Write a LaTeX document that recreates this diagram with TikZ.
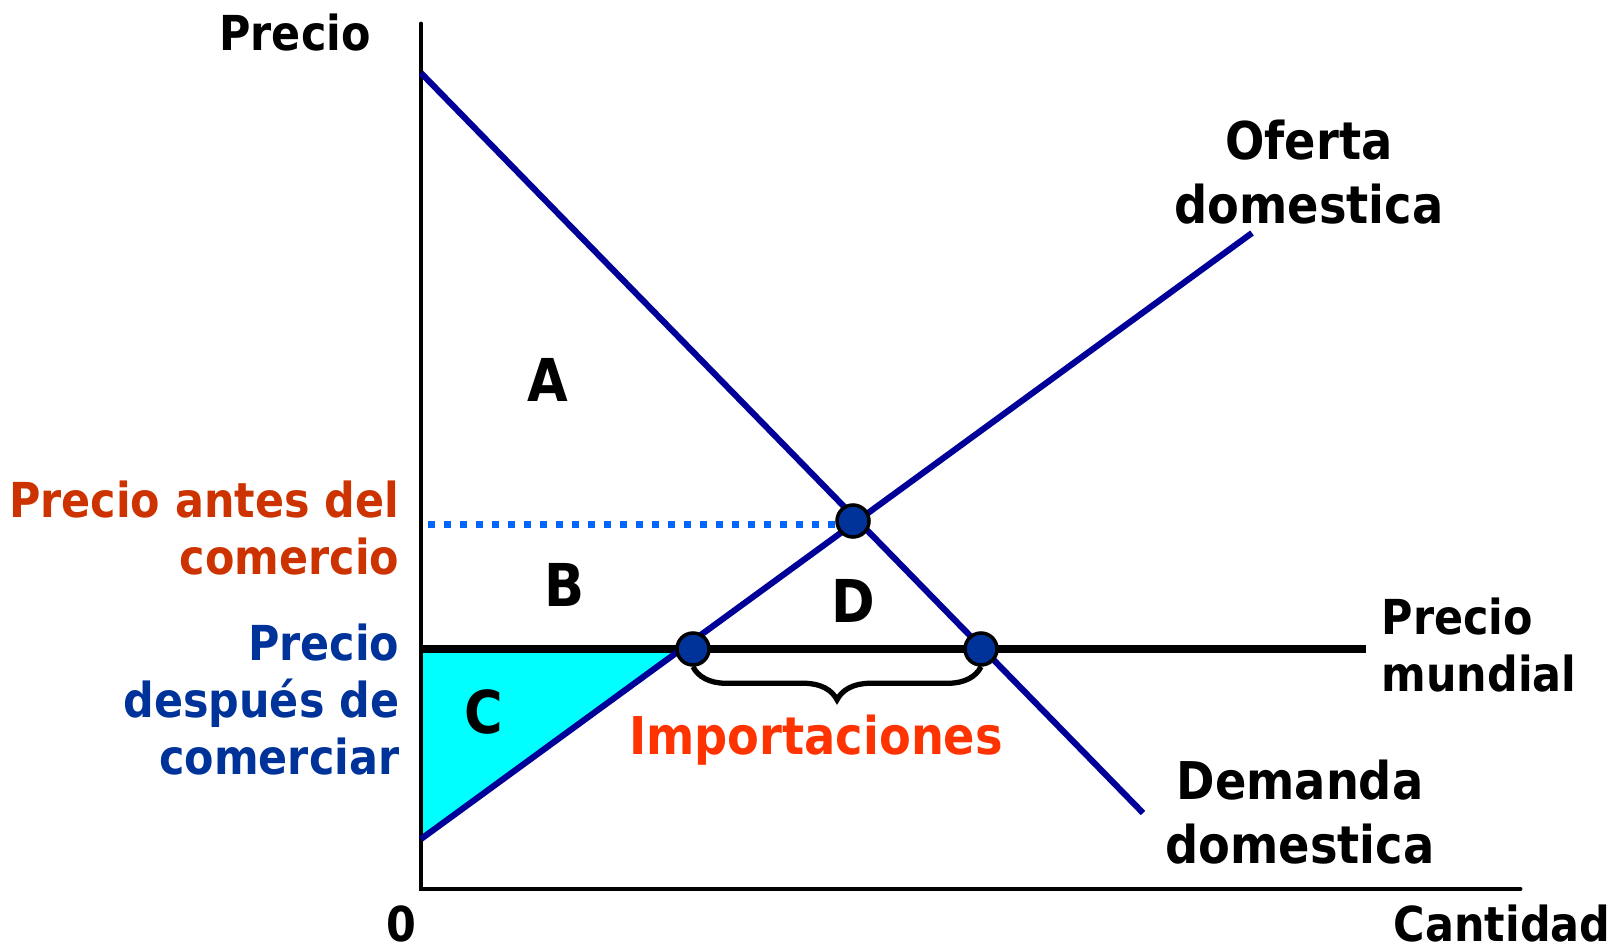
\documentclass[tikz,border=0pt]{standalone}
\usepackage{fontspec}
\setmainfont{DejaVu Sans}[FakeStretch=0.89]
\usepackage{tikz}
\usetikzlibrary{decorations.pathreplacing}

\definecolor{curveblue}{HTML}{000099}
\definecolor{dotblue}{HTML}{003399}
\definecolor{dotline}{HTML}{0066FF}
\definecolor{antes}{HTML}{CC3300}
\definecolor{despues}{HTML}{003399}
\definecolor{imports}{HTML}{FF3300}
\definecolor{areac}{HTML}{00FFFF}

\tikzset{
	curve/.style={line width=1.75pt,curveblue},
	eqdot/.style={circle,draw=black,line width=1pt,fill=dotblue,minimum size=0.32cm,inner sep=0pt},
	lbl/.style={font=\bfseries\fontsize{13.7}{16.2}\selectfont,inner sep=0pt},
	biglbl/.style={font=\bfseries\fontsize{14.8}{18}\selectfont,inner sep=0pt,align=center},
	area/.style={font=\bfseries\fontsize{16.8}{20}\selectfont,inner sep=0pt}
}

\begin{document}
\begin{tikzpicture}[x=0.01cm,y=-0.01cm]
	\useasboundingbox (0,0) rectangle (1619,946);

	% -- Points
	\coordinate (O) at (421,889);
	\coordinate (ytop) at (421,24);
	\coordinate (xend) at (1520,889);
	\coordinate (d1) at (421,73);
	\coordinate (d2) at (1143,813);
	\coordinate (s1) at (421,839);
	\coordinate (s2) at (1252,233);
	\coordinate (w1) at (421,649);
	\coordinate (w2) at (1366,649);
	\coordinate (pa) at (428,524);
	\coordinate (tip) at (intersection of s1--s2 and w1--w2);

	% -- Area C
	\fill[areac] (w1) -- (tip) -- (s1) -- cycle;

	% -- Axes
	\draw[line width=1.4pt,line cap=round] (ytop) -- (O) -- (xend);

	% -- World price
	\draw[line width=2pt] (w1) -- (w2);

	% -- Price before trade
	\draw[dotline,line width=0.07cm,dash pattern=on 0.07cm off 0.09cm] (pa) -- (853,524);

	% -- Supply and demand
	\draw[curve] (d1) -- (d2);
	\draw[curve] (s1) -- (s2);

	% -- Dots
	\node[eqdot] (E) at (853,521) {};
	\node[eqdot] (L) at (693,649) {};
	\node[eqdot] (R) at (981,649) {};

	% -- Imports
	\draw[line width=1.5pt,decorate,decoration={brace,mirror,amplitude=0.33cm}] (L.south) -- (R.south);
	\node[biglbl,imports] (imp) at (816,740) {Importaciones};

	% -- Axis labels
	\node[lbl] (py) at (295,33) {Precio};
	\node[lbl] (zero) at (401,924) {0};
	\node[lbl,anchor=east] (qx) at (1611,924) {Cantidad};

	% -- Curve labels
	\node[biglbl] (of) at (1309,172) {Oferta\\domestica};
	\node[biglbl] (dem) at (1300,812) {Demanda\\domestica};
	\node[lbl,anchor=west,align=left] (mund) at (1381,645) {Precio\\mundial};

	% -- Price labels
	\node[lbl,antes,anchor=east,align=right] (ante) at (400,528) {Precio antes del\\comercio};
	\node[lbl,despues,anchor=east,align=right] (desp) at (400,700) {Precio\\después de\\comerciar};

	% -- Areas
	\node[area] (A) at (548,380) {A};
	\node[area] (B) at (565,585) {B};
	\node[area] (C) at (484,712) {C};
	\node[area] (D) at (853,601) {D};
\end{tikzpicture}
\end{document}
